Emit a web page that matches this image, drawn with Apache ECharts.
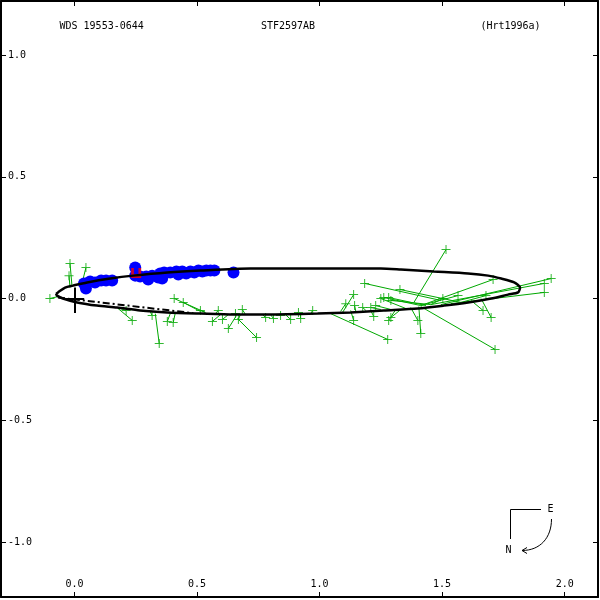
<!DOCTYPE html>
<html><head><meta charset="utf-8">
<script src="https://cdn.jsdelivr.net/npm/echarts@6/dist/echarts.min.js"></script>
<style>html,body{margin:0;padding:0;background:#fff}#c{width:600px;height:600px}</style>
</head><body><div id="c"></div>
<script>
const titleLeft = 'WDS 19553-0644';
const titleMid = 'STF2597AB';
const titleRight = '(Hrt1996a)';
const xTickValues = [0.0, 0.5, 1.0, 1.5, 2.0];
const yTickValues = [-1.0, -0.5, 0.0, 0.5, 1.0];

// apparent orbit
const orbitX = [-0.075,-0.067,-0.038,-0.006,0.052,0.146,0.240,0.379,0.514,0.718,0.923,1.058,1.250,1.332,1.467,1.606,1.688,1.741,1.794,1.818,1.810,1.769,1.700,1.606,1.508,1.401,1.262,1.127,0.992,0.788,0.649,0.514,0.379,0.268,0.174,0.092,0.011,-0.047,-0.071,-0.075];
const orbitY = [0.019,0.025,0.045,0.053,0.066,0.082,0.094,0.107,0.115,0.123,0.123,0.123,0.123,0.119,0.111,0.103,0.094,0.082,0.066,0.045,0.025,0.016,0.000,-0.016,-0.029,-0.041,-0.049,-0.057,-0.062,-0.066,-0.066,-0.062,-0.057,-0.049,-0.037,-0.029,-0.016,0.000,0.012,0.019];

// line of nodes
const nodeX = [-0.067, 0.485];
const nodeY = [0.004, -0.060];

// primary star cross
const crossX1 = [0, -0.04];
const crossY1 = [0.045, 0];
const crossX2 = [0, 0.04];
const crossY2 = [-0.060, 0];

// interferometric measures (blue)
const blueX = [0.039,0.047,0.064,0.084,0.109,0.129,0.154,0.248,0.248,0.268,0.293,0.301,0.317,0.342,0.350,0.358,0.366,0.391,0.416,0.424,0.440,0.456,0.473,0.489,0.506,0.522,0.538,0.555,0.571,0.649];
const blueY = [0.062,0.041,0.070,0.066,0.074,0.074,0.074,0.127,0.094,0.090,0.090,0.078,0.094,0.086,0.103,0.082,0.107,0.107,0.111,0.099,0.111,0.103,0.111,0.107,0.115,0.111,0.115,0.115,0.115,0.107];

// red measure
const redX = [0.252];
const redY = [0.105];

// micrometer measures (green): observed and computed positions
const obsX = [-0.018,-0.022,0.047,-0.100,0.407,0.236,0.346,0.317,0.379,0.403,0.444,0.514,0.587,0.563,0.604,0.628,0.657,0.669,0.685,0.743,0.780,0.812,0.841,0.882,0.914,0.211,1.516,1.945,1.917,1.917,1.708,1.184,1.139,1.107,1.328,1.262,1.282,1.291,1.565,1.679,1.503,1.667,1.700,1.401,1.413,1.278,1.716,1.139,0.972,0.923,1.282,1.291,1.221,1.143,1.176,1.209,1.229,1.250];
const obsY = [0.144,0.094,0.127,0.000,0.000,-0.090,-0.185,-0.070,-0.094,-0.099,-0.016,-0.049,-0.049,-0.094,-0.086,-0.123,-0.062,-0.086,-0.045,-0.160,-0.078,-0.082,-0.070,-0.086,-0.057,-0.049,0.201,0.082,0.062,0.025,0.078,0.062,0.016,-0.021,0.037,0.004,0.004,-0.008,0.012,0.012,0.000,-0.049,-0.078,-0.090,-0.144,-0.168,-0.209,-0.090,-0.049,-0.082,-0.090,-0.078,-0.074,-0.029,-0.037,-0.037,-0.029,0.000];
const calcX = [-0.010,-0.018,0.031,-0.067,0.534,0.178,0.330,0.309,0.391,0.411,0.514,0.534,0.575,0.596,0.628,0.661,0.669,0.677,0.698,0.665,0.767,0.800,0.833,0.861,0.902,0.187,1.385,1.495,1.454,1.536,1.413,1.495,1.094,1.086,1.577,1.413,1.434,1.454,1.413,1.577,1.454,1.618,1.659,1.372,1.405,1.045,1.413,1.127,0.964,0.923,1.311,1.332,1.209,1.148,1.189,1.250,1.291,1.352];
const calcY = [0.053,0.045,0.062,0.008,-0.057,-0.041,-0.062,-0.053,-0.062,-0.062,-0.053,-0.057,-0.062,-0.066,-0.066,-0.070,-0.066,-0.066,-0.066,-0.082,-0.066,-0.066,-0.066,-0.066,-0.066,-0.041,-0.016,-0.025,-0.025,-0.021,-0.029,-0.008,-0.057,-0.053,-0.016,-0.029,-0.029,-0.025,-0.029,-0.016,-0.025,-0.008,0.000,-0.037,-0.033,-0.062,-0.033,-0.049,-0.062,-0.066,-0.045,-0.045,-0.049,-0.053,-0.049,-0.045,-0.045,-0.041];

const FONT = '"DejaVu Sans Mono", monospace';
const GREEN = '#00a800';

function fmt(ticks) {
  return function (v) {
    const m = ticks.find(t => Math.abs(t - v) < 1e-6);
    return m === undefined ? '' : m.toFixed(1);
  };
}

const zip = (a, b) => a.map((v, i) => [v, b[i]]);

const chart = echarts.init(document.getElementById('c'), null, {renderer: 'canvas'});
const axisCommon = {
  type: 'value', splitNumber: 5, scale: true,
  axisLine: {show: true, onZero: false, lineStyle: {color: '#000', width: 2}},
  axisTick: {show: true, inside: true, length: 5, lineStyle: {color: '#000', width: 1}},
  splitLine: {show: false}
};
const option = {
  animation: false,
  backgroundColor: '#fff',
  grid: {left: 1, top: 1, right: 2, bottom: 3, containLabel: false},
  xAxis: [
    Object.assign({}, axisCommon, {position: 'bottom', min: -0.2995, max: 2.136,
      axisLabel: {show: true, inside: true, margin: 8, showMinLabel: false, showMaxLabel: false,
        formatter: fmt(xTickValues), fontFamily: FONT, fontSize: 10, color: '#000'}}),
    Object.assign({}, axisCommon, {position: 'top', min: -0.2995, max: 2.136, axisLabel: {show: false}})
  ],
  yAxis: [
    Object.assign({}, axisCommon, {position: 'left', min: -1.226, max: 1.222,
      axisLabel: {show: true, inside: true, margin: 7, showMinLabel: false, showMaxLabel: false,
        formatter: fmt(yTickValues), fontFamily: FONT, fontSize: 10, color: '#000'}}),
    Object.assign({}, axisCommon, {position: 'right', min: -1.226, max: 1.222, axisLabel: {show: false}})
  ],
  series: [
    {type: 'scatter', name: 'blue', data: zip(blueX, blueY), symbol: 'circle', symbolSize: 12,
      itemStyle: {color: '#0000ff', opacity: 1}, silent: true},
    {type: 'scatter', name: 'red', data: zip(redX, redY),
      symbol: 'path://M0,0H3V6H8V0H11V10H0Z', symbolSize: [10, 10],
      itemStyle: {color: '#ff0000'}, silent: true},
    {type: 'line', name: 'orbit', data: zip(orbitX, orbitY), showSymbol: false, smooth: 0.25,
      lineStyle: {color: '#000', width: 2.5}, silent: true},
    {type: 'line', name: 'nodes', data: zip(nodeX, nodeY), showSymbol: false,
      lineStyle: {color: '#000', width: 2, type: [7, 3, 2, 3]}, silent: true},
    {type: 'lines', name: 'cross', coordinateSystem: 'cartesian2d',
      data: crossX1.map((v, i) => ({coords: [[v, crossY1[i]], [crossX2[i], crossY2[i]]]})),
      lineStyle: {color: '#000', width: 2, opacity: 1}, silent: true},
    {type: 'lines', name: 'oc', coordinateSystem: 'cartesian2d',
      data: obsX.map((v, i) => ({coords: [[v, obsY[i]], [calcX[i], calcY[i]]]})),
      lineStyle: {color: GREEN, width: 1, opacity: 1}, silent: true},
    {type: 'scatter', name: 'green', data: zip(obsX, obsY),
      symbol: 'path://M4,0H5V4H9V5H5V9H4V5H0V4H4Z', symbolSize: 9,
      itemStyle: {color: GREEN}, silent: true}
  ],
  graphic: [
    {type: 'text', x: 59.5, y: 26, style: {text: titleLeft, font: '10px ' + FONT, fill: '#000', align: 'left', verticalAlign: 'middle'}},
    {type: 'text', x: 288, y: 26, style: {text: titleMid, font: '10px ' + FONT, fill: '#000', align: 'center', verticalAlign: 'middle'}},
    {type: 'text', x: 510.5, y: 26, style: {text: titleRight, font: '10px ' + FONT, fill: '#000', align: 'center', verticalAlign: 'middle'}},
    {type: 'polyline', shape: {points: [[541, 509.5], [510.5, 509.5], [510.5, 539]]}, style: {stroke: '#000', lineWidth: 1, fill: null}},
    {type: 'text', x: 550.5, y: 509, style: {text: 'E', font: '10px ' + FONT, fill: '#000', align: 'center', verticalAlign: 'middle'}},
    {type: 'text', x: 508.5, y: 550, style: {text: 'N', font: '10px ' + FONT, fill: '#000', align: 'center', verticalAlign: 'middle'}},
    {type: 'bezierCurve', shape: {x1: 551.5, y1: 519, cpx1: 551.5, cpy1: 538, cpx2: 540, cpy2: 550.5, x2: 522, y2: 550.5}, style: {stroke: '#000', lineWidth: 1, fill: null}},
    {type: 'polyline', shape: {points: [[527, 547.5], [522, 550.5], [527, 553.5]]}, style: {stroke: '#000', lineWidth: 1, fill: null}}
  ]
};
chart.setOption(option);
</script>
</body></html>
